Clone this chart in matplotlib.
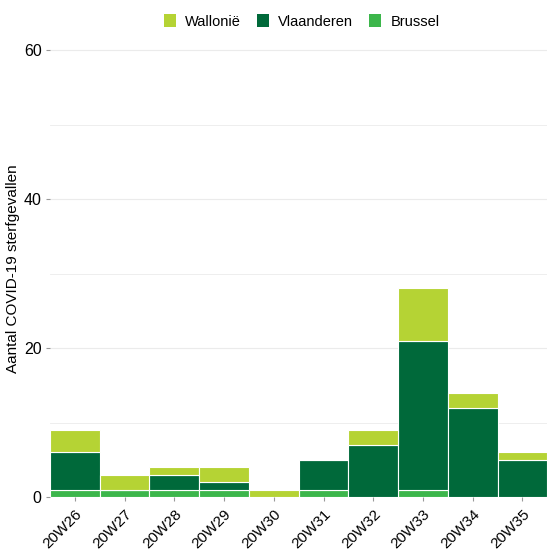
import numpy as np
import matplotlib.pyplot as plt
from matplotlib.patches import Patch

plt.rcParams["font.family"] = ["Liberation Sans", "DejaVu Sans"]

weeks = ["20W26", "20W27", "20W28", "20W29", "20W30",
         "20W31", "20W32", "20W33", "20W34", "20W35"]
brussel = [1, 1, 1, 1, 0, 1, 0, 1, 0, 0]
vlaanderen = [5, 0, 2, 1, 0, 4, 7, 20, 12, 5]
wallonie = [3, 2, 1, 2, 1, 0, 2, 7, 2, 1]

colors = {"Wallonië": "#b5d334", "Vlaanderen": "#00693a", "Brussel": "#3cb64b"}

fig = plt.figure(figsize=(5.49, 5.5), dpi=100)
ax = fig.add_axes([0.091, 0.0964, 0.906, 0.83])

x = np.arange(len(weeks))
b = np.array(brussel)
v = np.array(vlaanderen)
w = np.array(wallonie)

ax.bar(x, b, width=1.0, color=colors["Brussel"], edgecolor="white", linewidth=0.8, zorder=3)
ax.bar(x, v, width=1.0, bottom=b, color=colors["Vlaanderen"], edgecolor="white", linewidth=0.8, zorder=3)
ax.bar(x, w, width=1.0, bottom=b + v, color=colors["Wallonië"], edgecolor="white", linewidth=0.8, zorder=3)

ax.set_xlim(-0.5, len(weeks) - 0.5)
ax.set_ylim(0, 61.3)
ax.set_yticks([0, 20, 40, 60])
ax.set_yticks([10, 30, 50], minor=True)
ax.grid(axis="y", which="major", color="#ebebeb", linewidth=0.8, zorder=0)
ax.grid(axis="y", which="minor", color="#ebebeb", linewidth=0.6, zorder=0)
ax.tick_params(axis="y", which="minor", length=0)
ax.tick_params(axis="y", which="major", length=3, color="#999999", labelsize=11.5, pad=3)
ax.tick_params(axis="x", length=3, color="#999999", labelsize=11, pad=4)
ax.set_xticks(x)
ax.set_xticklabels(weeks, rotation=45, ha="right", va="top", rotation_mode="anchor")
for s in ax.spines.values():
    s.set_visible(False)
ax.set_ylabel("Aantal COVID-19 sterfgevallen", fontsize=11, labelpad=3)

handles = [Patch(facecolor=colors[k], edgecolor="none", label=k) for k in ["Wallonië", "Vlaanderen", "Brussel"]]
fig.legend(handles=handles, loc="center", bbox_to_anchor=(0.55, 0.961), ncol=3,
           frameon=False, fontsize=10.5, handlelength=0.8, handleheight=0.95,
           columnspacing=1.1, handletextpad=0.65, borderpad=0)

fig.savefig("out.png", dpi=100)
